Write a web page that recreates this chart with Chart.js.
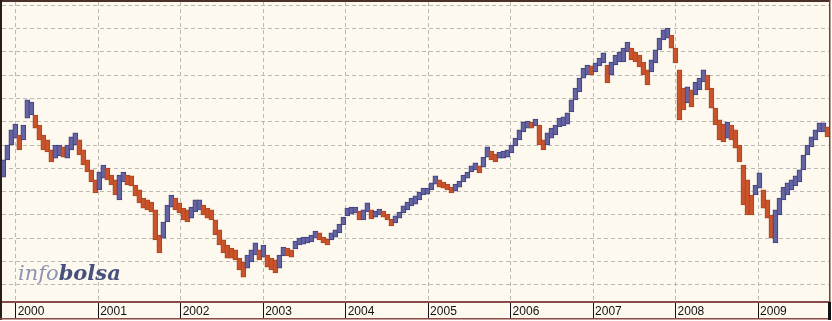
<!DOCTYPE html>
<html>
<head>
<meta charset="utf-8">
<script src="https://cdn.jsdelivr.net/npm/chart.js@4/dist/chart.umd.min.js"></script>
<style>
  html, body { margin: 0; padding: 0; background: #fff; }
</style>
</head>
<body>
<canvas id="chart" width="832" height="321"></canvas>
<script>
// year ticks along the bottom band
const yearTicks = [2000, 2001, 2002, 2003, 2004, 2005, 2006, 2007, 2008, 2009];
// index levels for the horizontal grid (no labels shown)
const levelTicks = [5000, 6000, 7000, 8000, 9000, 10000, 11000, 12000, 13000, 14000, 15000, 16000, 17000];

// one bar every ~2.5 weeks, starting in November 1999
const firstPeriod = 1999.85;
const periodLength = 0.0485;

const highs = [
  10360, 11000, 11650, 11900, 11430, 11860, 12940, 12850, 12290, 11860,
  11430, 11220, 10790, 11000, 11000, 10920, 11000, 11350, 11520, 11220,
  10790, 10360, 9930, 9500, 9840, 10140, 10010, 9710, 9500, 9710,
  9840, 9710, 9670, 9280, 9070, 8720, 8640, 8550, 8210, 7130,
  7690, 8420, 8850, 8720, 8510, 8290, 8210, 8330, 8640, 8640,
  8420, 8290, 8210, 7780, 7350, 6920, 6700, 6570, 6490, 6140,
  5970, 6270, 6490, 6790, 6490, 6700, 6270, 6140, 6060, 6270,
  6610, 6570, 6490, 6870, 7000, 7040, 7040, 7130, 7300, 7220,
  7040, 6960, 7220, 7350, 7600, 7900, 8290, 8330, 8330, 8160,
  8210, 8510, 8210, 8160, 8250, 8160, 8030, 7820, 7950, 8120,
  8380, 8550, 8720, 8810, 8980, 9150, 9150, 9370, 9670, 9500,
  9410, 9320, 9190, 9320, 9450, 9710, 9840, 10100, 10230, 10100,
  10480, 10920, 10740, 10610, 10700, 10740, 10790, 11000, 11300, 11650,
  11990, 12030, 11990, 12120, 11860, 11220, 11520, 11730, 11860, 12160,
  12210, 12380, 12940, 13450, 13880, 14310, 14440, 14400, 14530, 14740,
  14960, 14440, 14570, 14870, 15000, 15170, 15430, 15170, 15000, 14870,
  14570, 14230, 14660, 15090, 15600, 15950, 16030, 15730, 15170, 14230,
  13450, 13500, 13370, 13710, 13880, 14230, 14010, 13450, 12590, 12080,
  11900, 11990, 11860, 11650, 11000, 10140, 9500, 8850, 9280, 9800,
  9070, 8640, 7990, 8210, 8720, 9190, 9370, 9500, 9670, 9930,
  10570, 11000, 11350, 11650, 11950, 11950, 11780
];

const lows = [
  9620, 10360, 11000, 11300, 10790, 11220, 12160, 12290, 11730, 11220,
  10790, 10700, 10270, 10440, 10530, 10480, 10440, 10790, 11000, 10570,
  10140, 9840, 9410, 8940, 9070, 9580, 9500, 9280, 8850, 8640,
  9410, 9280, 9240, 8810, 8510, 8290, 8210, 8120, 6920, 6360,
  7000, 7690, 8330, 8210, 8080, 7780, 7690, 7860, 8120, 8210,
  7990, 7860, 7780, 7130, 6700, 6360, 6140, 6140, 6060, 5630,
  5320, 5710, 5970, 6270, 6060, 6180, 5750, 5630, 5500, 5710,
  6230, 6230, 6180, 6530, 6700, 6740, 6790, 6830, 7000, 6920,
  6790, 6700, 6920, 7040, 7220, 7560, 7950, 8030, 8080, 7780,
  7780, 8120, 7820, 7900, 7990, 7900, 7780, 7520, 7650, 7860,
  8080, 8210, 8380, 8460, 8640, 8850, 8890, 9070, 9320, 9190,
  9150, 9070, 8940, 9020, 9190, 9410, 9580, 9840, 9930, 9800,
  10050, 10480, 10360, 10270, 10440, 10440, 10480, 10660, 10960, 11220,
  11560, 11730, 11730, 11820, 11000, 10790, 11000, 11300, 11430, 11780,
  11820, 11900, 12420, 12940, 13280, 13880, 14010, 14010, 14140, 14400,
  14530, 13670, 14010, 14440, 14570, 14570, 15000, 14660, 14570, 14360,
  14010, 13580, 14140, 14530, 15090, 15520, 15600, 15170, 14530, 12080,
  12510, 12810, 12640, 13150, 13370, 13710, 13370, 12590, 11860, 11220,
  11130, 11300, 11220, 10870, 10270, 8420, 7990, 7990, 8850, 9150,
  8290, 7860, 7000, 6790, 7990, 8640, 8850, 9070, 9240, 9410,
  9930, 10570, 10920, 11220, 11560, 11560, 11350
];

const upLine = '#3f3f82';
const upFill = '#6464a2';
const downLine = '#b0431f';
const downFill = '#c9542b';

const bars = highs.map((h, i) => ({ x: firstPeriod + i * periodLength, y: [lows[i], h] }));
const rising = highs.map((h, i) => {
  if (i === 0) return true;
  return (h + lows[i]) >= (highs[i - 1] + lows[i - 1]);
});

const framePlugin = {
  id: 'frame',
  beforeDraw(chart) {
    const ctx = chart.ctx;
    ctx.save();
    ctx.fillStyle = '#fdf9ee';
    ctx.fillRect(0, 0, 831, 320);
    ctx.restore();
  },
  beforeDatasetsDraw(chart) {
    const ctx = chart.ctx;
    const a = chart.chartArea;
    ctx.save();
    ctx.textBaseline = 'alphabetic';
    ctx.font = 'italic 21px "DejaVu Serif"';
    ctx.fillStyle = '#8d93b2';
    const x0 = a.left + 16;
    const y0 = a.bottom - 22;
    ctx.fillText('info', x0, y0);
    const w = ctx.measureText('info').width;
    ctx.font = 'italic bold 21px "DejaVu Serif"';
    ctx.fillStyle = '#47517d';
    ctx.fillText('bolsa', x0 + w, y0);
    ctx.restore();
  },
  afterDraw(chart) {
    const ctx = chart.ctx;
    const a = chart.chartArea;
    const xs = chart.scales.x;
    ctx.save();
    ctx.fillStyle = '#4a3028';
    ctx.fillRect(0, 0, a.right + 1, 2);
    ctx.fillStyle = '#2a1c18';
    ctx.fillRect(0, 0, 2, xs.bottom);
    ctx.fillStyle = '#6a4438';
    ctx.fillRect(a.right, 0, 1.5, xs.bottom);
    ctx.fillStyle = '#8a4a48';
    ctx.fillRect(0, xs.bottom - 2, a.right + 1, 1.5);
    ctx.fillStyle = '#111';
    ctx.fillRect(a.right - 1, xs.top, 3, xs.bottom - xs.top);
    ctx.restore();
  }
};

new Chart(document.getElementById('chart'), {
  type: 'bar',
  data: {
    datasets: [{
      data: bars,
      backgroundColor: rising.map(r => r ? upFill : downFill),
      borderColor: rising.map(r => r ? upLine : downLine),
      borderWidth: 1,
      borderSkipped: false,
      barThickness: 5
    }]
  },
  options: {
    responsive: false,
    animation: false,
    devicePixelRatio: 1,
    layout: { padding: { left: 2, top: 2, right: 3, bottom: 1 } },
    plugins: { legend: { display: false }, tooltip: { enabled: false } },
    scales: {
      x: {
        type: 'linear',
        position: 'bottom',
        min: 1999.834,
        max: 2009.86,
        offset: false,
        afterBuildTicks: (s) => { s.ticks = yearTicks.map(v => ({ value: v })); },
        afterFit: (s) => { s.height = 18; },
        grid: {
          offset: false,
          color: '#bcb9b0',
          lineWidth: 1,
          drawTicks: true,
          tickLength: 16,
          tickColor: '#111',
          tickWidth: 1,
          tickBorderDash: []
        },
        border: { display: true, color: '#8a4a48', width: 2, dash: [4, 3] },
        ticks: {
          autoSkip: false,
          maxRotation: 0,
          align: 'start',
          labelOffset: 2,
          padding: -14,
          color: '#111',
          font: { family: '"Liberation Sans", Arial, sans-serif', size: 12 },
          callback: (v) => String(v)
        }
      },
      y: {
        min: 4250,
        max: 17150,
        beginAtZero: false,
        afterBuildTicks: (s) => { s.ticks = levelTicks.map(v => ({ value: v })); },
        afterFit: (s) => { s.width = 0; },
        grid: { color: '#bcb9b0', lineWidth: 1, drawTicks: false },
        border: { display: false, dash: [4, 3] },
        ticks: { display: false }
      }
    }
  },
  plugins: [framePlugin]
});
</script>
</body>
</html>
